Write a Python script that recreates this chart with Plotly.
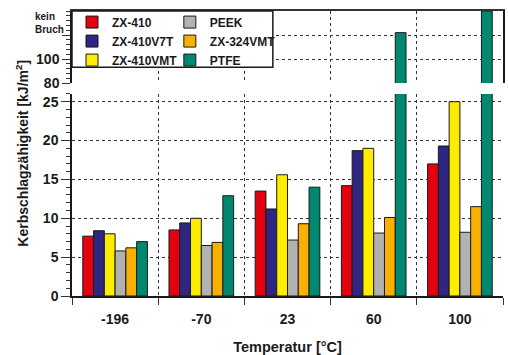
import plotly.graph_objects as go

# ---- data ----
temperatures = ["-196", "-70", "23", "60", "100"]
series_names = ["ZX-410", "ZX-410V7T", "ZX-410VMT", "PEEK", "ZX-324VMT", "PTFE"]
zx410 = [7.7, 8.5, 13.5, 14.2, 17.0]
zx410v7t = [8.4, 9.4, 11.2, 18.7, 19.3]
zx410vmt = [8.0, 10.0, 15.6, 19.0, 25.0]
peek = [5.8, 6.5, 7.2, 8.1, 8.2]
zx324vmt = [6.2, 6.9, 9.3, 10.1, 11.5]
ptfe = [7.0, 12.9, 14.0, 122, 140]   # 60 °C: "kein Bruch", 100 °C: beyond scale
series_values = [zx410, zx410v7t, zx410vmt, peek, zx324vmt, ptfe]
colors = ["#E3000F", "#2E2680", "#FFED00", "#B2B2B2", "#F9B000", "#008770"]
legend_of = ["legend", "legend", "legend", "legend2", "legend2", "legend2"]

lower_ticks = [0, 5, 10, 15, 20, 25]
upper_ticks = [80, 100, 120]
upper_ticktext = ["80", "100", ""]
no_break_label = "kein<br>Bruch"
no_break_value = 120

TXT = "#1a1a1a"
FONT = "Liberation Sans"

fig = go.Figure()
for name, vals, col, lg in zip(series_names, series_values, colors, legend_of):
    common = dict(x=temperatures, y=vals, name=name,
                  marker=dict(color=col, line=dict(color="#1a1a1a", width=1)), hoverinfo="skip")
    fig.add_trace(go.Bar(**common, xaxis="x", yaxis="y", legend=lg, showlegend=True))
    fig.add_trace(go.Bar(**common, xaxis="x2", yaxis="y2", showlegend=False))

grid = dict(showgrid=True, gridcolor="#333333", gridwidth=1, griddash="dot")
ytickfont = dict(family=FONT, size=14, color=TXT, weight="bold")
xtickfont = dict(family=FONT, size=14, color=TXT, weight="bold")

fig.update_layout(
    width=508, height=355,
    margin=dict(l=72, r=5, t=11, b=59, autoexpand=False),
    paper_bgcolor="white", plot_bgcolor="white",
    barmode="group", bargap=0.25, bargroupgap=0,
    font=dict(family=FONT, color=TXT),
    xaxis=dict(type="category", categoryorder="array", categoryarray=temperatures,
               domain=[0, 1], anchor="y", range=[-0.5, 4.5], tickson="boundaries", ticks="outside",
               ticklen=7, tickcolor="#333333", zeroline=False,
               showline=True, linecolor="#1a1a1a", linewidth=1.5, automargin=False,
               tickfont=xtickfont, ticklabelstandoff=9,
               title=dict(text="Temperatur [°C]", standoff=16,
                          font=dict(family=FONT, size=14.5, color=TXT, weight="bold")), **grid),
    xaxis2=dict(type="category", categoryorder="array", categoryarray=temperatures,
                domain=[0, 1], anchor="y2", range=[-0.5, 4.5], tickson="boundaries",
                ticks="", showticklabels=False, zeroline=False, side="top", automargin=False,
                showline=True, linecolor="#333333", linewidth=1.5, **grid),
    yaxis=dict(domain=[0, 0.709], anchor="x", range=[0, 26], tickvals=lower_ticks, ticks="outside",
               ticklen=9, tickcolor="#333333", showline=True, linecolor="#1a1a1a", linewidth=1.5,
               zeroline=False, tickfont=ytickfont, automargin=False,
               minor=dict(dtick=1, ticks="outside", ticklen=4, tickcolor="#333333", showgrid=False), **grid),
    yaxis2=dict(domain=[0.747, 1], anchor="x2", range=[80, 140], tickvals=upper_ticks, ticktext=upper_ticktext,
                ticks="outside", ticklen=8, tickcolor="#333333", showline=True, mirror=True,
                linecolor="#1a1a1a", linewidth=1.5, zeroline=False, tickfont=ytickfont, automargin=False,
                minor=dict(tick0=80, dtick=4, ticks="outside", ticklen=4, tickcolor="#333333", showgrid=False),
                **grid),
    legend=dict(x=0, y=1.012, xanchor="left", yanchor="top", orientation="v", bgcolor="rgba(0,0,0,0)",
                borderwidth=0, font=dict(family=FONT, size=12, color=TXT, weight="bold"),
                tracegroupgap=0, traceorder="normal"),
    legend2=dict(x=0.227, y=1.012, xanchor="left", yanchor="top", orientation="v", bgcolor="rgba(0,0,0,0)",
                 borderwidth=0, font=dict(family=FONT, size=12, color=TXT, weight="bold"),
                 tracegroupgap=0, traceorder="normal"),
    annotations=[
        dict(text="Kerbschlagzähigkeit [kJ/m<sup>2</sup>]", textangle=-90, xref="paper", yref="paper",
             x=-0.118, y=0.5, xanchor="center", yanchor="middle", showarrow=False,
             font=dict(family=FONT, size=14, color=TXT, weight="bold")),
        dict(text=no_break_label, xref="paper", yref="y2", x=-0.0905, y=no_break_value,
             xanchor="left", yanchor="bottom", align="left", showarrow=False, yshift=-2,
             font=dict(family=FONT, size=10, color=TXT, weight="bold")),
    ],
    shapes=[dict(type="rect", xref="paper", yref="paper", x0=0, x1=0.466, y0=0.803, y1=1,
                 fillcolor="white", line=dict(color="#1a1a1a", width=1.5), layer="above")],
)

fig.write_html("out.html", post_script="document.body.style.margin='0px';",
               config={"displayModeBar": False})
